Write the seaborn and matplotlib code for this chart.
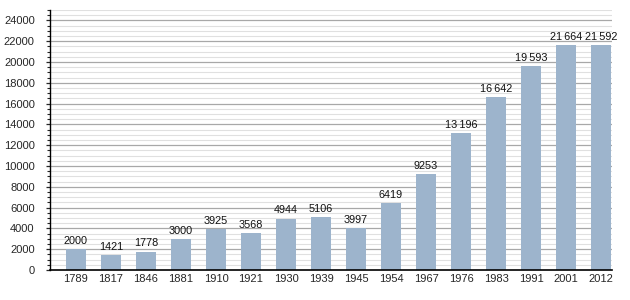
import matplotlib
matplotlib.use("Agg")
import matplotlib.pyplot as plt
import seaborn as sns
import pandas as pd
from matplotlib.ticker import MultipleLocator

years = ["1789", "1817", "1846", "1881", "1910", "1921", "1930", "1939", "1945",
         "1954", "1967", "1976", "1983", "1991", "2001", "2012"]
population = [2000, 1421, 1778, 3000, 3925, 3568, 4944, 5106, 3997,
              6419, 9253, 13196, 16642, 19593, 21664, 21592]
value_labels = ["2000", "1421", "1778", "3000", "3925", "3568", "4944", "5106", "3997",
                "6419", "9253", "13\u2009196", "16\u2009642", "19\u2009593", "21\u2009664", "21\u2009592"]

sns.set_style("white")
plt.rcParams['font.family'] = ['Liberation Sans', 'DejaVu Sans']

df = pd.DataFrame({"year": years, "pop": population})

fig = plt.figure(figsize=(6.3, 3.0), dpi=100)
ax = fig.add_axes([50/630, 30/300, (612-50)/630, 260/300])

# grid lines
for v in range(500, 25001, 500):
    if v % 2000 == 0:
        ax.axhline(v, color="#a8a8a8", lw=0.9, zorder=0)
    else:
        ax.axhline(v, color="#e0e0e0", lw=0.8, zorder=0)

sns.barplot(data=df, x="year", y="pop", color="#9db4cc", width=0.57,
            saturation=1, linewidth=0, ax=ax, zorder=2)

for i, (v, lab) in enumerate(zip(population, value_labels)):
    ax.text(i, v + 300, lab, ha="center", va="bottom", fontsize=7.8, color="#111111")

ax.set_xlim(-0.74, 15.31)
ax.set_ylim(0, 25000)
ax.yaxis.set_major_locator(MultipleLocator(2000))
ax.yaxis.set_minor_locator(MultipleLocator(500))
ax.tick_params(axis="y", which="major", length=3, width=0.9, direction="out",
               labelsize=8, left=True, pad=8)
ax.tick_params(axis="y", which="minor", length=2, width=0.8, direction="out", left=True)
ax.tick_params(axis="x", length=0, labelsize=8, pad=3)
ax.set_xlabel("")
ax.set_ylabel("")
for s in ["top", "right"]:
    ax.spines[s].set_visible(False)
ax.spines["left"].set_color("black")
ax.spines["bottom"].set_color("black")
ax.spines["left"].set_linewidth(1.0)
ax.spines["bottom"].set_linewidth(1.2)

fig.savefig("out.png", dpi=100)
